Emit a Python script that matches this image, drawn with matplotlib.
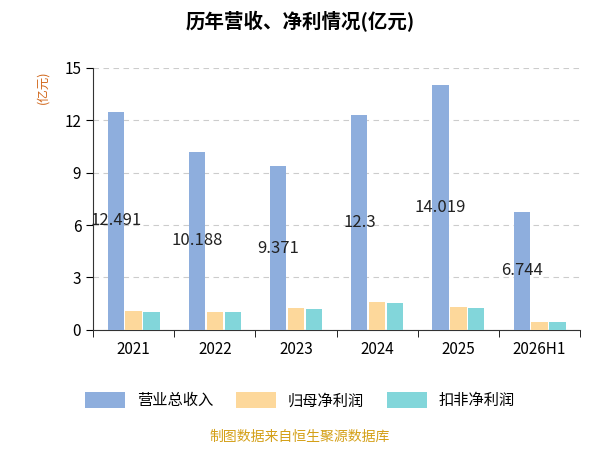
import matplotlib
matplotlib.use("Agg")
from matplotlib import pyplot as plt
import numpy as np

plt.rcParams['font.family'] = ['Noto Sans CJK SC', 'DejaVu Sans']

years = ['2021', '2022', '2023', '2024', '2025', '2026H1']
revenue = [12.491, 10.188, 9.371, 12.3, 14.019, 6.744]
net_profit = [1.1, 1.05, 1.25, 1.6, 1.3, 0.45]
net_profit_adj = [1.05, 1.0, 1.2, 1.55, 1.25, 0.45]
series_names = ['营业总收入', '归母净利润', '扣非净利润']
colors = ['#8EAEDD', '#FDD89B', '#82D6DA']

fig = plt.figure(figsize=(6, 4.5), dpi=100)
ax = fig.add_axes([0.155, 0.267, 0.812, 0.582])

x = np.arange(len(years))
w = 0.2
gap = 0.22
for i, (vals, name) in enumerate(zip([revenue, net_profit, net_profit_adj], series_names)):
    ax.bar(x + (i - 1) * gap, vals, w, color=colors[i], label=name, zorder=3)

for xi, v in zip(x, revenue):
    ax.text(xi - gap, v / 2, f'{v:g}', ha='center', va='center', fontsize=12, color='#222222', zorder=4)

ax.set_xlim(-0.5, len(years) - 0.5)
ax.set_ylim(0, 15)
ax.set_yticks([0, 3, 6, 9, 12, 15])
ax.set_xticks(x)
ax.set_xticklabels(years, fontsize=11)
ax.set_xticks(np.arange(-0.5, len(years), 1), minor=True)
ax.tick_params(axis='x', which='major', length=0, pad=8)
ax.tick_params(axis='x', which='minor', length=5)
ax.tick_params(axis='y', labelsize=11, length=5)
ax.grid(axis='y', linestyle=(0, (5, 4)), color='#cccccc', zorder=0)
for s in ['top', 'right']:
    ax.spines[s].set_visible(False)
ax.spines['left'].set_color('#333333')
ax.spines['bottom'].set_color('#333333')

fig.text(0.072, 0.805, '(亿元)', rotation=90, color='#D2691E', fontsize=9, ha='center', va='center')
fig.suptitle('历年营收、净利情况(亿元)', y=0.975, fontsize=14, fontweight='bold')
fig.legend(loc='center', bbox_to_anchor=(0.5, 0.11), ncol=3, frameon=False, fontsize=11,
           handlelength=2.6, handleheight=1.3, columnspacing=1.5)
fig.text(0.5, 0.02, '制图数据来自恒生聚源数据库', ha='center', color='#D4A017', fontsize=10)

fig.savefig('out.png', dpi=100)
